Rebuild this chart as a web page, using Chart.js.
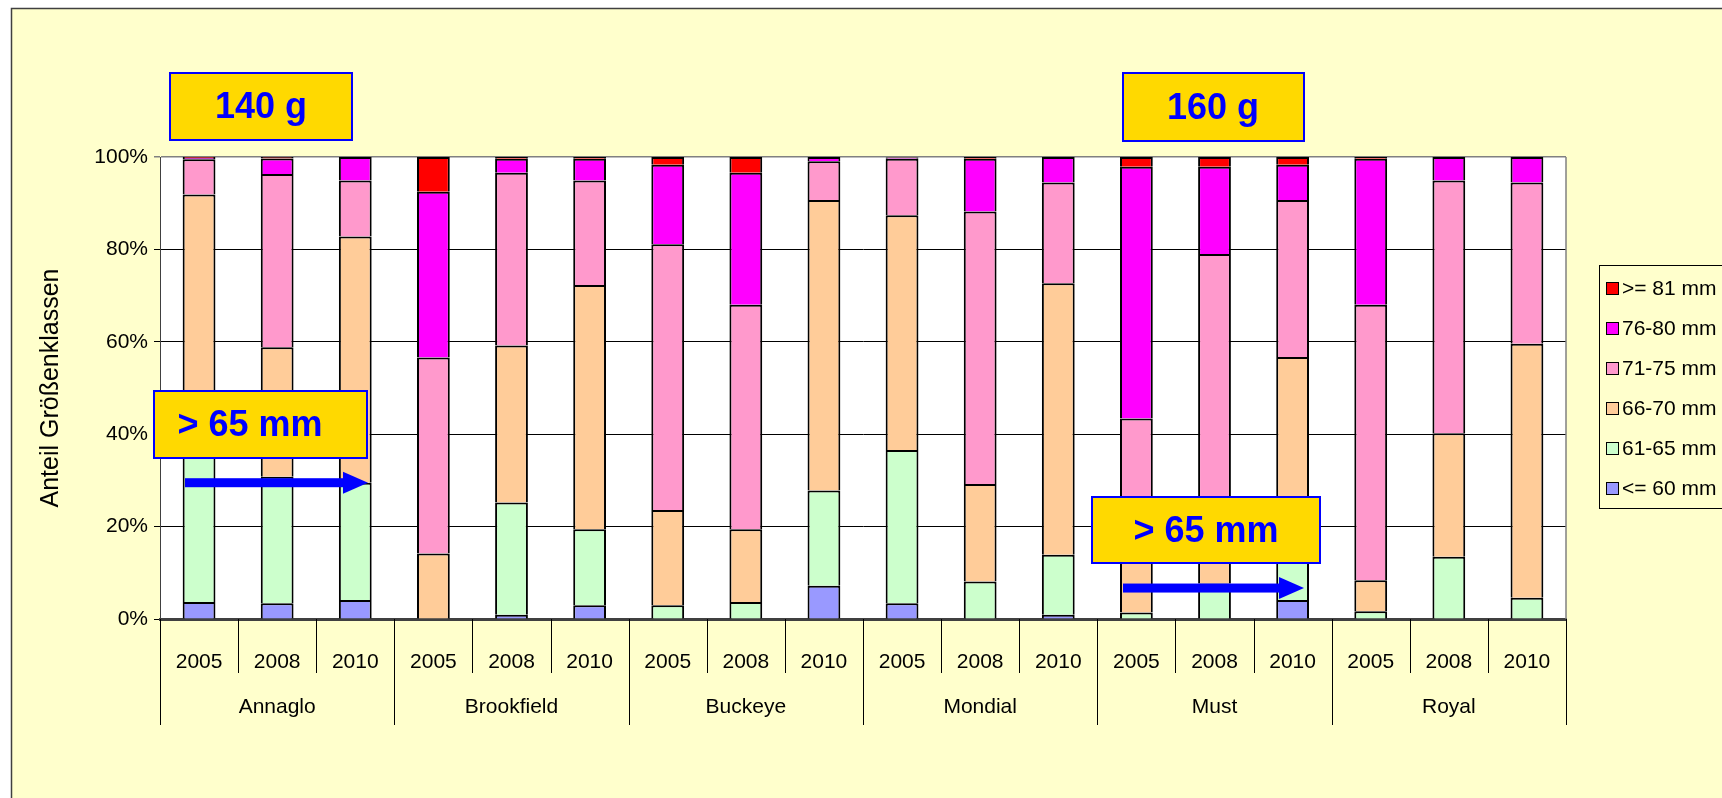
<!DOCTYPE html>
<html>
<head>
<meta charset="utf-8">
<script src="https://cdn.jsdelivr.net/npm/chart.js@4.4.1/dist/chart.umd.min.js"></script>
<style>
  body { margin: 0; background: #fff; }
  #c { display: block; }
</style>
</head>
<body>
<canvas id="c" width="1722" height="798"></canvas>
<script>
// years per bar, grouped by variety
var years = ['2005', '2008', '2010', '2005', '2008', '2010', '2005', '2008', '2010',
             '2005', '2008', '2010', '2005', '2008', '2010', '2005', '2008', '2010'];
var groups = ['Annaglo', 'Brookfield', 'Buckeye', 'Mondial', 'Must', 'Royal'];
var yTicks = [0, 20, 40, 60, 80, 100];

// share of size class in % (bottom to top)
var s60 = [3.7, 3.4, 4.1, 0, 0.9, 3.0, 0, 0, 7.2, 3.4, 0, 0.9, 0, 0, 4.1, 0, 0, 0];
var s65 = [36.3, 27.4, 25.4, 0, 24.3, 16.4, 3.0, 3.7, 20.6, 33.2, 8.1, 13.0, 1.4, 7.7, 13.9, 1.7, 13.5, 4.6];
var s70 = [51.9, 28.0, 53.3, 14.2, 34.0, 52.9, 20.6, 15.7, 62.9, 50.8, 21.1, 58.8, 14.6, 14.3, 38.7, 6.7, 26.7, 55.0];
var s75 = [7.6, 37.5, 12.1, 42.4, 37.4, 22.6, 57.5, 48.6, 8.4, 12.2, 59.0, 21.8, 27.4, 57.0, 34.0, 59.6, 54.7, 34.9];
var s80 = [0.3, 3.4, 5.1, 35.9, 3.0, 4.7, 17.2, 28.6, 0.9, 0.3, 11.4, 5.5, 54.5, 18.9, 7.6, 31.6, 5.1, 5.5];
var s81 = [0.2, 0.3, 0, 7.5, 0.4, 0.4, 1.7, 3.4, 0, 0.1, 0.4, 0, 2.1, 2.1, 1.7, 0.4, 0, 0];

var seriesNames = ['<= 60 mm', '61-65 mm', '66-70 mm', '71-75 mm', '76-80 mm', '>= 81 mm'];
var seriesColors = ['#9999FF', '#CCFFCC', '#FFCC99', '#FF99CC', '#FF00FF', '#FF0000'];
var seriesData = [s60, s65, s70, s75, s80, s81];

var FONT = "'Liberation Sans', Arial, sans-serif";
Chart.defaults.font.family = FONT;
Chart.defaults.color = '#000';

var datasets = [];
for (var i = 0; i < seriesData.length; i++) {
  datasets.push({
    label: seriesNames[i],
    data: seriesData[i],
    backgroundColor: seriesColors[i],
    borderColor: '#000',
    borderWidth: 2,
    barPercentage: 0.42,
    categoryPercentage: 1
  });
}

// page frame, white plot area
var backdrop = {
  id: 'backdrop',
  beforeDraw: function(chart) {
    var ctx = chart.ctx, a = chart.chartArea;
    ctx.save();
    ctx.fillStyle = '#fff';
    ctx.fillRect(0, 0, chart.width, chart.height);
    ctx.fillStyle = '#FFFFCC';
    ctx.fillRect(11, 8, chart.width, chart.height);
    ctx.strokeStyle = '#404040';
    ctx.lineWidth = 1.5;
    ctx.strokeRect(11.5, 8.5, chart.width + 50, chart.height + 50);
    ctx.fillStyle = '#fff';
    ctx.fillRect(a.left, a.top, a.right - a.left, a.bottom - a.top);
    ctx.restore();
  }
};

function box(ctx, x, y, w, h, text, cx) {
  ctx.fillStyle = '#FFD900';
  ctx.fillRect(x, y, w, h);
  ctx.strokeStyle = '#0000FF';
  ctx.lineWidth = 2;
  ctx.strokeRect(x, y, w, h);
  ctx.fillStyle = '#0000FF';
  ctx.font = 'bold 36px ' + FONT;
  ctx.textAlign = 'center';
  ctx.textBaseline = 'middle';
  ctx.fillText(text, cx, y + h / 2 + 2);
}

function arrow(ctx, x1, x2, y) {
  ctx.fillStyle = '#0000FF';
  ctx.fillRect(x1, y - 4.5, x2 - x1 - 24, 9);
  ctx.beginPath();
  ctx.moveTo(x2 - 25, y - 11);
  ctx.lineTo(x2, y);
  ctx.lineTo(x2 - 25, y + 11);
  ctx.closePath();
  ctx.fill();
}

var extras = {
  id: 'extras',
  afterDraw: function(chart) {
    var ctx = chart.ctx, a = chart.chartArea;
    var xs = chart.scales.x, ys = chart.scales.y;
    ctx.save();

    // plot border right side
    ctx.strokeStyle = '#808080';
    ctx.lineWidth = 1.5;
    ctx.beginPath();
    ctx.moveTo(a.right, a.top);
    ctx.lineTo(a.right, a.bottom);
    ctx.stroke();

    // category separators and group names
    ctx.strokeStyle = '#000';
    ctx.lineWidth = 1;
    for (var i = 0; i <= years.length; i++) {
      var x;
      if (i === 0) x = a.left;
      else if (i === years.length) x = a.right;
      else x = (xs.getPixelForValue(i - 1) + xs.getPixelForValue(i)) / 2;
      x = Math.round(x) + 0.5;
      ctx.beginPath();
      ctx.moveTo(x, a.bottom);
      ctx.lineTo(x, i % 3 === 0 ? 725 : 673);
      ctx.stroke();
    }
    ctx.fillStyle = '#000';
    ctx.font = '21px ' + FONT;
    ctx.textAlign = 'center';
    ctx.textBaseline = 'middle';
    for (var g = 0; g < groups.length; g++) {
      ctx.fillText(groups[g], xs.getPixelForValue(g * 3 + 1), 707);
    }

    // legend, top entry first
    ctx.strokeStyle = '#000';
    ctx.lineWidth = 1;
    ctx.strokeRect(1599.5, 265.5, 200, 243);
    ctx.textAlign = 'left';
    for (var k = 0; k < seriesNames.length; k++) {
      var d = seriesNames.length - 1 - k;
      var cy = 288 + k * 40;
      ctx.fillStyle = seriesColors[d];
      ctx.fillRect(1606, cy - 6, 13, 13);
      ctx.strokeRect(1606.5, cy - 5.5, 12, 12);
      ctx.fillStyle = '#000';
      ctx.fillText(seriesNames[d], 1622, cy + 1);
    }

    // annotations
    box(ctx, 170, 73, 182, 67, '140 g', 261);
    box(ctx, 1123, 73, 181, 68, '160 g', 1213);
    box(ctx, 154, 391, 213, 67, '> 65 mm', 250);
    arrow(ctx, 185, 368, ys.getPixelForValue(29.5));
    box(ctx, 1092, 497, 228, 66, '> 65 mm', 1206);
    arrow(ctx, 1123, 1304, ys.getPixelForValue(6.7));

    ctx.restore();
  }
};

new Chart(document.getElementById('c'), {
  type: 'bar',
  data: { labels: years, datasets: datasets },
  plugins: [backdrop, extras],
  options: {
    responsive: false,
    animation: false,
    devicePixelRatio: 1,
    layout: { padding: { left: 0, top: 157, right: 156, bottom: 0 } },
    plugins: { legend: { display: false }, tooltip: { enabled: false } },
    scales: {
      x: {
        stacked: true,
        grid: { display: false },
        border: { display: true, color: '#404040', width: 3 },
        ticks: { font: { size: 21 }, padding: 23, maxRotation: 0, autoSkip: false },
        afterFit: function(s) { s.height = 798 - 619; }
      },
      y: {
        stacked: true,
        min: 0,
        max: 100,
        afterBuildTicks: function(s) { s.ticks = yTicks.map(function(v) { return { value: v }; }); },
        grid: {
          color: function(c) { return c.tick && c.tick.value === 100 ? '#808080' : '#000'; },
          lineWidth: function(c) { return c.tick && c.tick.value === 100 ? 1.5 : 1; },
          tickLength: 6
        },
        border: { display: true, color: '#404040', width: 1 },
        ticks: {
          font: { size: 21 },
          padding: 6,
          callback: function(v) { return v + '%'; }
        },
        title: {
          display: true,
          text: 'Anteil Größenklassen',
          font: { size: 25 },
          padding: { top: 36, bottom: 0 }
        },
        afterFit: function(s) { s.width = 160; }
      }
    }
  }
});
</script>
</body>
</html>
